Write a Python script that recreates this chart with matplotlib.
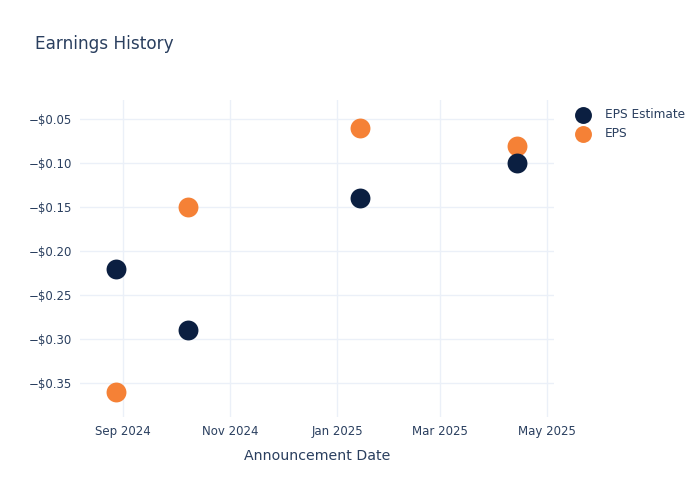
import matplotlib
matplotlib.use("Agg")
import matplotlib.pyplot as plt
from matplotlib.ticker import FuncFormatter
import datetime as dt

dates = ["2024-08-28", "2024-10-08", "2025-01-14", "2025-04-14"]
eps_estimate = [-0.22, -0.29, -0.14, -0.10]
eps_actual = [-0.36, -0.15, -0.06, -0.08]
y_ticks = [-0.35, -0.30, -0.25, -0.20, -0.15, -0.10, -0.05]
x_ticks = ["2024-09-01", "2024-11-01", "2025-01-01", "2025-03-01", "2025-05-01"]

TXT = "#2a3f5f"
GRID = "#EBF0F8"
NAVY = "#0B1F41"
ORANGE = "#F58136"

plt.rcParams['font.family'] = ['DejaVu Sans']

fig = plt.figure(figsize=(7, 5), dpi=100)
ax = fig.add_axes([80/700, 83/500, 474/700, 317/500])

d = [dt.datetime.strptime(s, "%Y-%m-%d") for s in dates]
ax.scatter(d, eps_actual, s=205, color=ORANGE, zorder=3, label="EPS", linewidths=0)
ax.scatter(d, eps_estimate, s=205, color=NAVY, zorder=4, label="EPS Estimate", linewidths=0)

ax.set_xlim(dt.datetime(2024, 8, 7, 8), dt.datetime(2025, 5, 4, 20))
ax.set_ylim(-0.389, -0.028)
ax.set_yticks(y_ticks)
ax.yaxis.set_major_formatter(FuncFormatter(lambda v, p: ("\u2212" if v < 0 else "") + "${:.2f}".format(abs(v))))
xt = [dt.datetime.strptime(s, "%Y-%m-%d") for s in x_ticks]
ax.set_xticks(xt)
ax.set_xticklabels([t.strftime("%b %Y") for t in xt])

ax.grid(True, color=GRID, linewidth=1)
ax.set_axisbelow(True)
for sp in ax.spines.values():
    sp.set_visible(False)
ax.tick_params(length=0, colors=TXT, labelsize=8.5, pad=6)

ax.set_xlabel("Announcement Date", color=TXT, fontsize=10.2, labelpad=8)

fig.text(35/700, 1 - 44/500, "Earnings History", color=TXT, fontsize=12.2, va="center", ha="left")

h, l = ax.get_legend_handles_labels()
leg = fig.legend([h[1], h[0]], [l[1], l[0]], loc="upper left", bbox_to_anchor=(566/700, 1 - 103/500),
                 frameon=False, fontsize=8.7, labelcolor=TXT, handletextpad=0.8, labelspacing=0.55,
                 markerscale=0.85, borderaxespad=0)

fig.savefig("out.png", dpi=100, facecolor="white")
